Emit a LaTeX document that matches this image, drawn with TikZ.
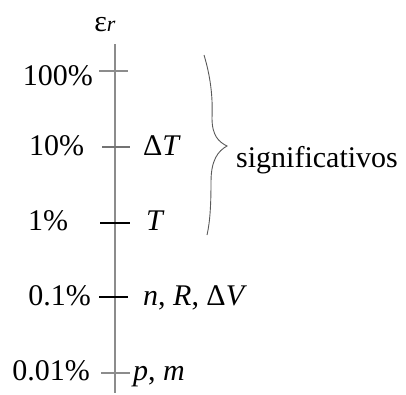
\documentclass[tikz,border=0pt]{standalone}
\usepackage{fontspec}
\setmainfont{Liberation Serif}
\begin{document}
\begin{tikzpicture}[x=1pt,y=-1pt,
  lab/.style={inner sep=0pt,font=\fontsize{30}{36}\selectfont},
  axisline/.style={draw=black!45,line width=1.1pt},
  tick/.style={line width=1.1pt},
  bracestyle/.style={draw=black!65,line width=0.9pt}]
\useasboundingbox (0,0) rectangle (406,394);
% axis
\coordinate (top) at (115,44);
\coordinate (bot) at (115,393);
\draw[axisline] (top) -- (bot);
\node[lab,anchor=base] (eps) at (105,31) {ε\textit{\fontsize{22}{26}\selectfont r}};
% ticks
\coordinate (t1a) at (99,71);  \coordinate (t1b) at (128,71);
\coordinate (t2a) at (102,147); \coordinate (t2b) at (130,147);
\coordinate (t3a) at (100,223); \coordinate (t3b) at (130,223);
\coordinate (t4a) at (99,297);  \coordinate (t4b) at (128,297);
\coordinate (t5a) at (101,373); \coordinate (t5b) at (130,373);
\draw[tick,draw=black!45] (t1a) -- (t1b);
\draw[tick,draw=black!55] (t2a) -- (t2b);
\draw[tick,draw=black] (t3a) -- (t3b);
\draw[tick,draw=black] (t4a) -- (t4b);
\draw[tick,draw=black!45] (t5a) -- (t5b);
% left labels
\node[lab,anchor=base east] (l1) at (93,85) {100\%};
\node[lab,anchor=base west] (l2) at (29,155) {10\%};
\node[lab,anchor=base west] (l3) at (28,230) {1\%};
\node[lab,anchor=base east] (l4) at (91,305) {0.1\%};
\node[lab,anchor=base east] (l5) at (90,380) {0.01\%};
% right labels
\node[lab,anchor=base west] (r2) at (143,155) {Δ\textit{T}};
\node[lab,anchor=base west] (r3) at (146,230) {\textit{T}};
\node[lab,anchor=base west] (r4) at (143,305) {\textit{n}, \textit{R}, Δ\textit{V}};
\node[lab,anchor=base west] (r5) at (133,380) {\textit{p}, \textit{m}};
% brace
\coordinate (bt) at (204,55);
\coordinate (bm) at (227,146);
\coordinate (bb) at (207,235);
\draw[bracestyle] (bt) .. controls (210,75) and (213,95) .. (212,118)
  .. controls (212,136) and (219,142) .. (bm)
  .. controls (218,151) and (211,160) .. (211,182)
  .. controls (211,205) and (210,222) .. (bb);
\node[lab,anchor=base west] (sig) at (236,167) {significativos};
\end{tikzpicture}
\end{document}
